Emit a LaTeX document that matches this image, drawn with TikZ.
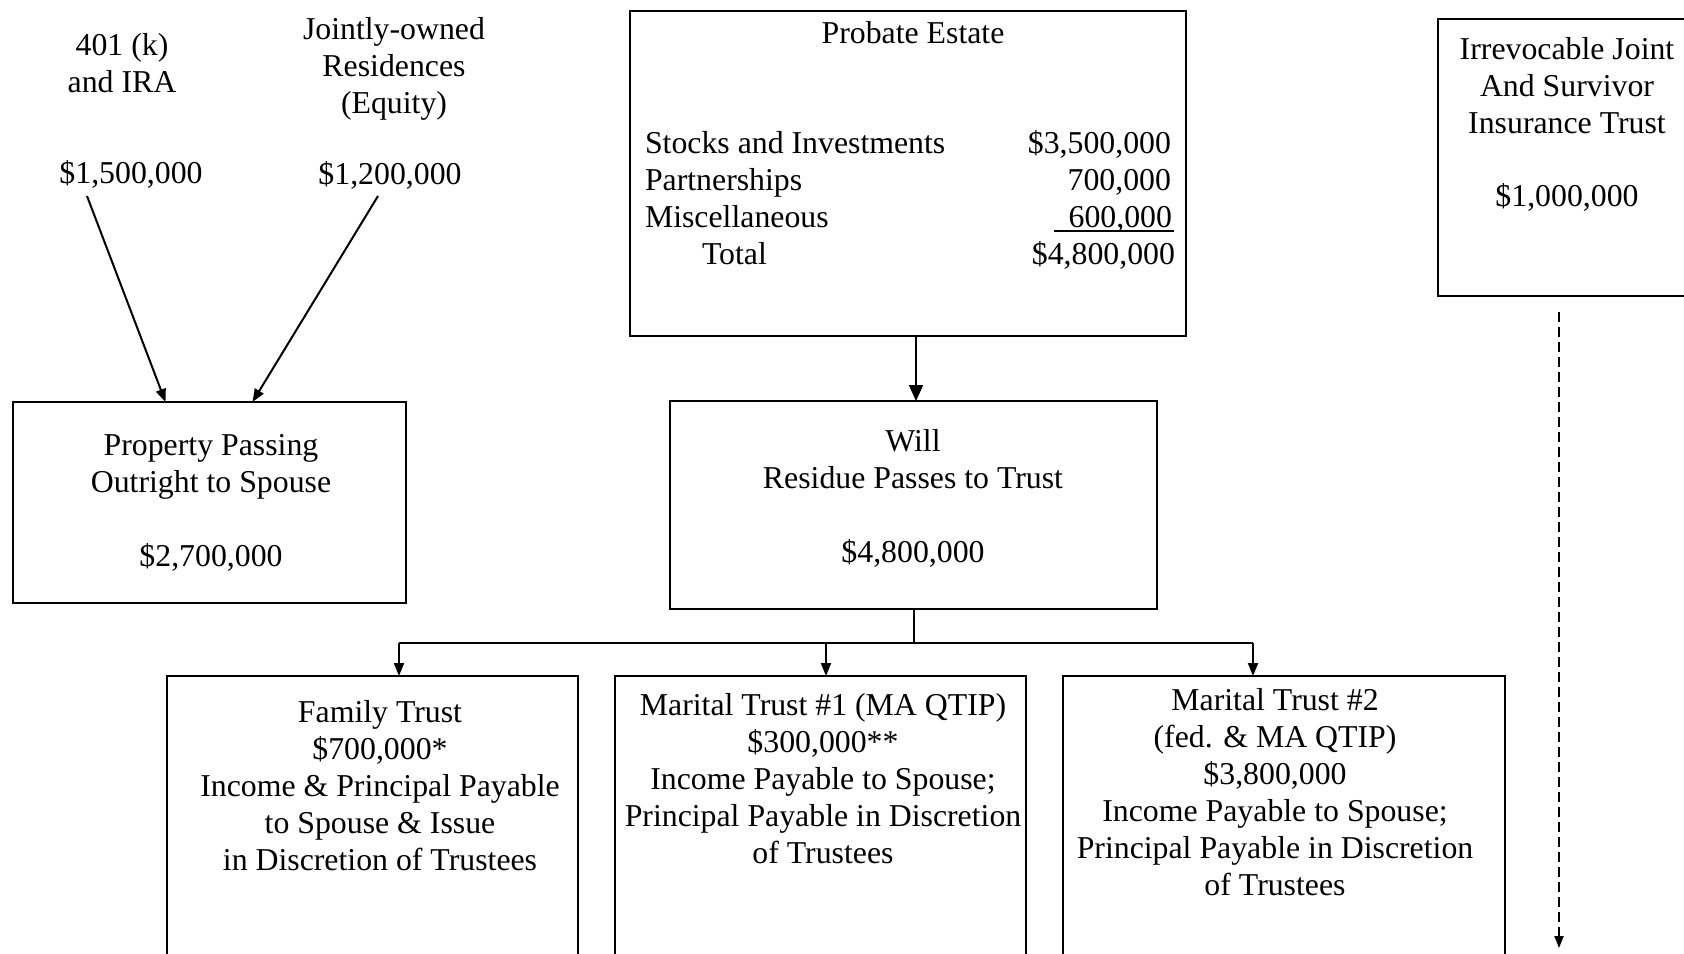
\documentclass[tikz,border=0pt]{standalone}
\usepackage{fontspec}
\setmainfont{Liberation Serif}
\usetikzlibrary{arrows.meta,calc,fit}
\begin{document}
\begin{tikzpicture}[x=0.5pt,y=-0.5pt,
  every node/.style={inner sep=0pt,outer sep=0pt,font=\fontsize{15.9}{18.5}\selectfont},
  box/.style={draw,line width=1.3pt,rectangle},
  txt/.style={align=center,anchor=north},
  amt/.style={anchor=base},
  lbl/.style={anchor=base west},
  val/.style={anchor=base east},
  conn/.style={line width=1pt},
  arr/.style={line width=1pt,-{Triangle[length=6.5pt,width=5pt]}},
  bigarr/.style={line width=1pt,-{Triangle[length=8pt,width=7pt]}},
  dasharr/.style={line width=1pt,dash pattern=on 5pt off 2.5pt,-{Triangle[length=6pt,width=4.5pt]}}]
\useasboundingbox (0,0) rectangle (1684,953);
\clip (0,0) rectangle (1684,953);
% top-left sources
\node[txt] (t401) at (122,33) {401 (k)\\and IRA};
\node[amt] (a1) at (131,183) {\$1,500,000};
\node[txt] (tjoint) at (394,17) {Jointly-owned\\Residences\\(Equity)};
\node[amt] (a2) at (390,184) {\$1,200,000};
% property box
\node[box,fit={(13,402)(406,603)}] (prop) {};
\node[txt] (tprop) at (211,434) {Property Passing\\Outright to Spouse};
\node[amt] (aprop) at (211,566) {\$2,700,000};
% probate estate
\node[box,fit={(630,11)(1186,336)}] (prob) {};
\node[amt] (tprob) at (913,43) {Probate Estate};
\node[lbl] (l1) at (645,153) {Stocks and Investments};
\node[lbl] (l2) at (645,190) {Partnerships};
\node[lbl] (l3) at (645,227) {Miscellaneous};
\node[lbl] (l4) at (702,264) {Total};
\node[val] (v1) at (1171,153) {\$3,500,000};
\node[val] (v2) at (1171,190) {700,000};
\node[val] (v3) at (1172,227) {600,000};
\node[val] (v4) at (1175,264) {\$4,800,000};
\draw[line width=0.8pt] ([shift={(2,4)}]v3.base east) -- ++(-120,0);
% will
\node[box,fit={(670,401)(1157,609)}] (will) {};
\node[txt] (twill) at (913,429) {Will\\Residue Passes to Trust};
\node[amt] (awill) at (913,562) {\$4,800,000};
% trusts
\node[box,fit={(167,676)(578,1000)}] (fam) {};
\node[txt] (tfam) at (380,700) {Family Trust\\\$700,000*\\Income \& Principal Payable\\to Spouse \& Issue\\in Discretion of Trustees};
\node[box,fit={(615,676)(1026,1000)}] (mar1) {};
\node[txt] (tmar1) at (823,693) {Marital Trust \#1 (MA QTIP)\\\$300,000**\\ Income Payable to Spouse;\\Principal Payable in Discretion\\of Trustees};
\node[box,fit={(1063,676)(1505,1000)}] (mar2) {};
\node[txt] (tmar2) at (1275,688) {Marital Trust \#2\\(fed. \& MA QTIP)\\\$3,800,000\\Income Payable to Spouse;\\Principal Payable in Discretion\\of Trustees};
% insurance trust
\node[box,fit={(1438,19)(1720,296)}] (ins) {};
\node[txt] (tins) at (1567,37) {Irrevocable Joint\\And Survivor\\Insurance Trust};
\node[amt] (ains) at (1567,206) {\$1,000,000};
% connectors
\draw[arr] ([shift={(-44,13)}]a1.base) -- ([shift={(-44,0)}]prop.north);
\draw[arr] ([shift={(-12,12)}]a2.base) -- ([shift={(43,0)}]prop.north);
\draw[bigarr] ([shift={(8,0)}]prob.south) -- ([shift={(8,0)}]prob.south |- will.north);
\coordinate (j1) at (399,643);
\coordinate (j2) at (826,643);
\coordinate (j3) at (1253,643);
\draw[conn] (will.south) -- (will.south |- j1);
\draw[conn] (j1) -- (j3);
\draw[arr] (j1) -- (j1 |- fam.north);
\draw[arr] (j2) -- (j2 |- mar1.north);
\draw[arr] (j3) -- (j3 |- mar2.north);
\coordinate (dend) at (1559,948);
\draw[dasharr] ([shift={(0,16)}]ins.south -| dend) -- (dend);
\end{tikzpicture}
\end{document}
